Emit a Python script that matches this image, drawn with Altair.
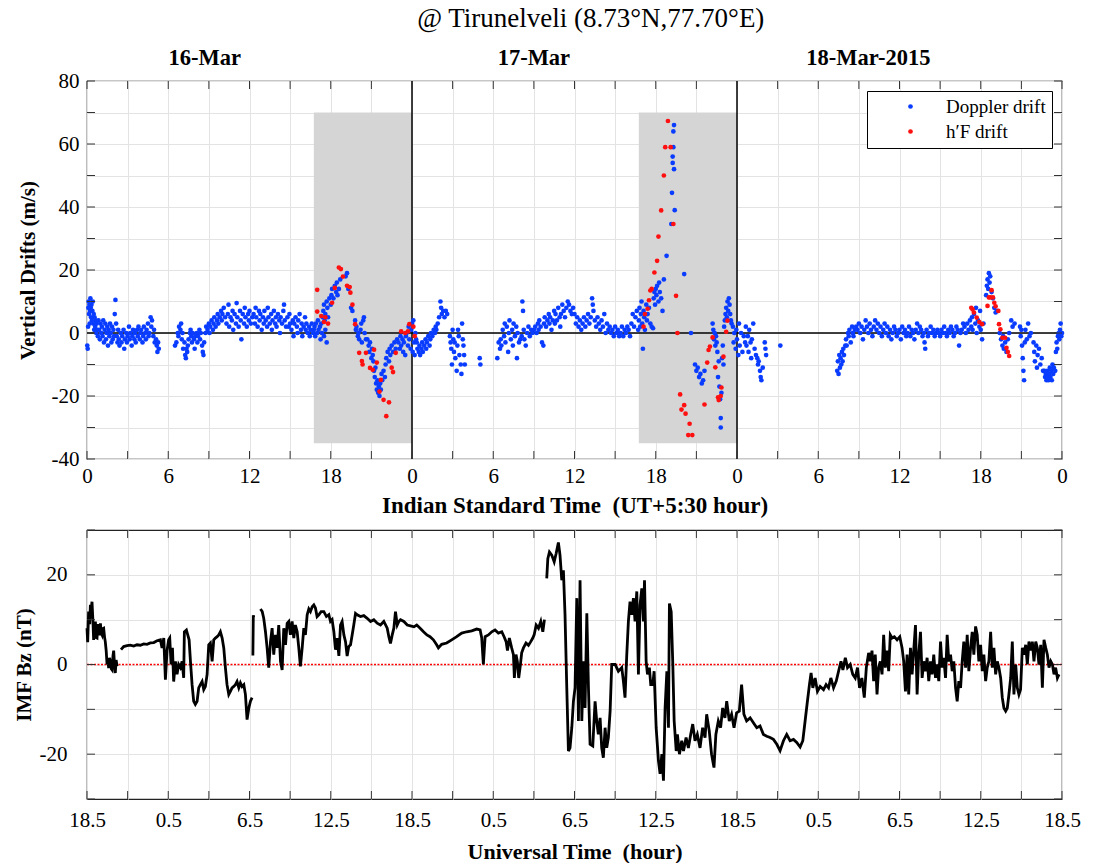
import altair as alt
import pandas as pd

# ---------------- data (hours from 16-Mar 00:00 IST) ----------------
dop_day1 = [
    (0.02,-4),(0.05,-5),(0.08,2),(0.1,8),(0.12,10),(0.15,6),(0.18,9),(0.2,3),(0.22,7),(0.25,11),(0.28,8),(0.3,5),
    (0.33,9),(0.36,4),(0.4,7),(0.43,10),(0.46,3),(0.5,6),(0.53,1),(0.56,5),(0.6,2),(0.64,4),(0.68,0),(0.72,3),(0.76,1),(0.8,-1),
    (0.85,4),(0.9,1),(0.95,-2),(1.0,3),(1.05,0),(1.1,2),(1.15,-1),(1.2,4),(1.25,-3),(1.3,1),(1.35,3),(1.4,-2),(1.45,0),
    (1.5,2),(1.55,-4),(1.6,1),(1.65,-1),(1.7,3),(1.75,0),(1.8,-3),(1.85,2),(1.9,-2),(1.95,1),(2.0,-1),(2.05,6),(2.1,10.5),
    (2.15,3),(2.2,-1),(2.25,-3),(2.3,1),
    (2.35,-2),(2.4,-4),(2.5,0),(2.55,-3),(2.6,-1),(2.7,1),(2.75,-5),(2.8,-2),(2.9,0),(2.95,-3),(3.0,-1),(3.1,2),(3.15,-2),
    (3.2,0),(3.3,-4),(3.35,-1),(3.4,1),(3.5,-2),(3.55,0),(3.6,-3),(3.7,1),(3.75,-1),(3.8,2),(3.9,-2),(3.95,0),(4.0,1),
    (4.1,-3),(4.15,-1),(4.2,2),(4.3,0),(4.35,-2),(4.4,1),(4.5,3),(4.55,-1),(4.6,0),(4.7,5),(4.75,2),(4.8,4),(4.9,-1),
    (4.95,1),(5.0,-3),(5.1,-2),(5.15,-4),(5.2,-6),(5.25,-3),(5.3,-5),
    (6.5,-4),(6.6,-3),(6.7,0),(6.75,-1),(6.8,2),(6.9,1),(6.95,3),(7.0,-2),(7.05,0),(7.1,-5),(7.2,-3),(7.25,-7),(7.3,-8),
    (7.35,-5),(7.4,-6),(7.45,-4),(7.5,-2),(7.6,0),(7.65,1),(7.7,-1),(7.75,-3),(7.8,0),(7.9,-2),(7.95,-5),(8.0,-1),(8.1,0),
    (8.15,-3),(8.2,-1),(8.3,1),(8.35,-2),(8.4,0),(8.5,-4),(8.55,-6),(8.6,-7),(8.65,-3),
    (8.75,0),(8.8,2),(8.9,1),(9.0,3),(9.05,0),(9.1,2),(9.2,4),(9.3,1),(9.35,3),(9.4,5),(9.5,2),(9.6,4),(9.65,6),(9.7,3),
    (9.8,5),(9.9,7),(9.95,4),(10.0,6),(10.1,8),(10.2,5),
    (10.3,3),(10.4,6),(10.45,9),(10.5,2),(10.6,5),(10.7,4),(10.75,7),(10.8,1),(10.9,6),(11.0,3),(11.05,9.5),(11.1,5),
    (11.2,2),(11.3,7),(11.35,4),(11.4,-2),(11.5,6),(11.6,3),(11.65,8),(11.7,5),(11.8,2),(11.9,6),(11.95,4),(12.0,7),(12.1,3),(12.2,5),
    (12.3,6),(12.4,3),(12.45,8),(12.5,5),(12.6,2),(12.7,7),(12.75,4),(12.8,6),(12.9,1),(13.0,5),(13.05,3),(13.1,7),(13.2,4),
    (13.3,2),(13.35,8),(13.4,5),(13.5,3),(13.6,6),(13.65,1),(13.7,4),(13.8,7),(13.9,3),(13.95,5),(14.0,2),(14.1,6),(14.2,4),
    (14.25,0),(14.3,5),(14.4,3),(14.5,7),(14.55,9),(14.6,4),(14.7,2),
    (14.8,5),(14.9,2),(14.95,6),(15.0,3),(15.1,1),(15.2,4),(15.25,-1),(15.3,3),(15.4,5),(15.5,2),(15.55,0),(15.6,4),(15.7,6),
    (15.8,1),(15.85,3),(15.9,-1),(16.0,2),(16.1,5),(16.15,1),(16.2,3),(16.3,0),(16.4,2),(16.45,-1),(16.5,1),(16.6,3),(16.7,0),
    (16.75,1),(16.8,2),(16.85,-1),(16.9,3),(17.0,0),(17.05,4),(17.1,1),(17.2,2),(17.25,-2),(17.3,3),(17.35,0),(17.4,5),
    (17.5,-1),(17.55,4),(17.6,1),(17.7,-3),
    (17.45,7),(17.5,9),(17.6,6),(17.7,10),(17.75,8),(17.8,5),(17.9,11),(18.0,9),(18.05,12),(18.1,14),(18.2,11),(18.3,15),
    (18.4,13),(18.45,16),(18.5,12),(18.6,14),(18.7,17),
    (19.1,18),(19.2,19),(19.3,14),(19.5,8),(19.6,7),
    (19.8,4),(19.85,1),(19.9,2),(20.0,-1),(20.05,0),(20.1,-2),(20.2,1),(20.25,3),(20.3,-3),(20.4,4),(20.45,5),(20.5,0),(20.6,-2),
    (20.7,-2),(20.8,-4),(20.85,-6),(20.9,-3),(21.0,-8),(21.05,-5),(21.1,-7),
    (21.15,-9),(21.2,-12),(21.25,-14),(21.3,-11),(21.35,-16),(21.4,-18),(21.45,-15),(21.5,-19),(21.55,-17),(21.6,-20),
    (21.65,-16),(21.7,-18),(21.75,-13),(21.8,-15),
    (21.9,-12),(22.0,-14),(22.05,-10),(22.1,-8),(22.2,-6),(22.3,-9),(22.35,-5),(22.4,-7),(22.5,-4),(22.6,-6),(22.7,-3),(22.8,-5),(22.9,-2),
    (23.0,-3),(23.1,-5),(23.15,-1),(23.2,-4),(23.3,-2),(23.35,-6),(23.4,-3),(23.5,-7),(23.55,-1),(23.6,0),(23.7,-4),(23.75,2),
    (23.8,-2),(23.9,-5),(23.95,1),
]
dop_day2 = [
    (24.0,3),(24.05,-6),(24.1,4),(24.15,-3),(24.2,-7),(24.25,0),(24.3,-2),
    (24.35,-3),(24.4,-5),(24.5,-6),(24.55,-4),(24.6,-7),(24.7,-5),(24.75,-3),(24.8,-6),(24.9,-4),(25.0,-2),(25.05,-5),(25.1,-3),
    (25.2,-1),(25.3,-4),(25.35,-2),(25.4,0),(25.5,-1),(25.6,1),(25.7,0),(25.75,2),(25.8,1),
    (25.9,3),(26.0,5),(26.1,10),(26.15,8),(26.2,6),(26.3,7),(26.4,5),(26.5,7),(26.6,6),
    (26.8,-1),(26.85,-3),(26.9,-5),(26.95,-10),(27.0,1),(27.05,-2),(27.1,-6),(27.15,-3),(27.2,-8),(27.3,-12),(27.35,-4),
    (27.4,1),(27.45,-1),(27.5,-7),(27.6,-10),(27.65,-13),(27.7,3),(27.75,-2),(27.8,-4),(27.85,-7),(27.9,-10),
    (29.0,-8),(29.05,-10),
    (30.3,-8),(30.4,-3),(30.5,-5),(30.55,-2),(30.6,-4),(30.7,1),(30.8,-1),(30.85,3),(30.9,-3),(31.0,2),(31.1,-6),(31.15,0),
    (31.2,4),(31.3,-2),(31.4,1),(31.45,-4),(31.5,3),(31.6,-1),(31.7,2),(31.75,-8),(31.8,0),(31.9,-3),(32.0,-2),(32.1,-1),
    (32.15,10),(32.2,7),(32.25,1),(32.3,-2),(32.4,-4),(32.5,0),(32.6,2),(32.7,-1),(32.8,1),(32.9,0),
    (33.0,1),(33.1,2),(33.2,0),(33.3,3),(33.35,1),(33.4,4),(33.5,2),(33.6,-3),(33.7,-4),(33.75,3),(33.8,5),(33.9,2),(34.0,4),
    (34.1,6),(34.15,3),(34.2,5),(34.3,1),(34.4,4),(34.5,7),(34.55,3),(34.6,6),(34.7,4),(34.8,8),(34.9,5),(34.95,2),(35.0,6),
    (35.1,9),(35.2,7),(35.3,5),(35.4,8),(35.5,10),(35.6,9),(35.7,7),(35.8,6),(35.9,8),
    (36.0,6),(36.1,3),(36.2,5),(36.3,2),(36.4,4),(36.5,1),(36.6,3),(36.7,5),(36.8,2),(36.9,4),(37.0,6),(37.1,3),(37.2,5),
    (37.3,11),(37.35,9),(37.4,7),(37.5,4),(37.6,2),(37.7,5),(37.8,3),(37.9,1),(38.0,4),(38.1,2),(38.2,6),(38.3,0),(38.4,3),
    (38.5,1),(38.6,2),(38.7,0),
    (38.8,1),(38.9,-1),(39.0,2),(39.1,0),(39.2,1),(39.3,-1),(39.4,0),(39.5,2),(39.6,-1),(39.7,1),(39.8,0),(39.9,2),(40.0,1),
    (40.1,-1),(40.2,3),(40.3,6),(40.4,2),(40.5,5),(40.6,7),(40.7,1),
    (40.75,4),(40.8,8),(40.85,2),(40.9,6),(40.95,10),(41.0,3),(41.05,-5),(41.1,7),(41.15,5),(41.2,1),(41.3,9),(41.35,4),
    (41.4,6),(41.5,8),(41.6,3),(41.7,2),(41.8,1.5),
    (41.85,11),(41.9,13),(41.95,9),(42.0,14),(42.05,12),(42.1,15),(42.2,10),(42.25,16),(42.3,13),(42.4,11),(42.5,7),(42.6,17),
    (42.8,24.5),(43.15,34.6),(43.2,44.5),(43.25,54),(43.25,56),(43.3,59),(43.3,64),(43.35,66),(43.35,52),(43.4,39),
    (44.1,18.7),(44.6,0),
    (44.9,-10),(45.0,-12),(45.1,-11),(45.2,-14),(45.3,-13),(45.4,-16),(45.5,-15),(45.6,-12),
    (46.2,3),(46.25,1),(46.3,-2),(46.35,0),(46.4,-4),(46.45,-1),(46.5,-3),
    (46.55,-6),(46.6,-14),(46.65,-9),(46.7,-17),(46.75,-21),(46.8,-27),(46.8,-30),(46.85,-19),(46.9,-8),(46.95,-4),(47.0,-10),
    (47.05,2),(47.1,4),(47.15,6),(47.2,8),(47.25,5),(47.3,10),(47.35,7),(47.4,11),(47.45,9),(47.5,6),(47.55,4),(47.6,3),
    (47.7,2),(47.75,-3),(47.8,0),(47.9,-5),(47.95,1),
]
dop_day3 = [
    (48.0,-2),(48.1,-7),(48.15,3),(48.2,-4),(48.3,0),(48.4,-6),(48.5,-1),(48.6,-3),
    (48.65,2),(48.7,-4),(48.8,-1),(48.85,-6),(48.9,1),(49.0,-3),(49.05,-8),(49.1,-2),(49.2,3),(49.3,-5),(49.4,-7),
    (49.5,-8),(49.55,-10),(49.6,-9),(49.7,-12),(49.75,-14),(49.8,-15),(49.9,-11),
    (50.05,-3),(50.1,-5),(50.15,-7),(51.2,-4),
    (55.4,-12),(55.45,-9),(55.5,-13),(55.55,-7),(55.6,-11),(55.65,-8),(55.7,-10),(55.75,-6),(55.8,-9),(55.85,-5),(55.9,-7),(56.0,-4),
    (56.05,-2),(56.1,-4),(56.2,0),(56.25,-1),(56.3,1),(56.4,-3),(56.5,2),(56.55,0),(56.6,-1),(56.7,1),(56.8,2),
    (56.9,1),(57.0,3),(57.1,0),(57.2,2),(57.3,-2),(57.4,1),(57.5,4),(57.6,2),(57.7,0),(57.8,3),(57.9,1),(58.0,-1),(58.1,2),
    (58.2,4),(58.3,1),(58.4,3),(58.5,0),(58.6,2),(58.7,-1),(58.8,1),(58.9,3),(59.0,0),(59.1,2),(59.2,-1),(59.3,1),(59.4,-2),
    (59.5,0),(59.6,2),(59.7,1),(59.8,-1),(59.9,0),(60.0,1),(60.1,-2),(60.2,2),(60.3,0),(60.4,1),(60.5,-1),(60.6,0),(60.7,2),
    (60.8,-1),(60.9,1),(61.0,0),(61.1,-2),(61.2,1),(61.3,3),(61.4,0),(61.5,2),(61.6,1),(61.7,-1),
    (61.85,-3),(61.9,-5),
    (61.8,0),(62.0,1),(62.1,-1),(62.2,0),(62.3,2),(62.4,0),(62.5,1),(62.6,-1),(62.7,0),(62.8,1),(62.9,0),(63.0,-1),(63.1,1),
    (63.2,0),(63.3,2),(63.4,0),(63.5,-1),(63.6,1),(63.7,0),(63.8,2),(63.9,1),(64.0,-1),(64.1,0),(64.2,2),(64.3,1),(64.4,-4),
    (64.5,0),(64.6,1),(64.7,3),(64.8,2),(64.9,0),(65.0,3),(65.1,1),(65.2,4),
    (65.3,2),(65.35,5),(65.4,1),(65.5,6),(65.6,3),(65.65,8),(65.7,0),(65.8,4),(65.9,2),(65.95,7),(66.0,1),(66.1,-2),(66.2,3),
    (66.4,12),(66.45,15),(66.5,17),(66.55,14),(66.6,19),(66.65,16),(66.7,18),(66.8,13),
    (66.9,11),(67.0,8),(67.1,6.5),(67.2,7),
    (67.4,0),(67.5,-2),(67.6,-4),(67.65,-1),(67.7,-5),(67.8,-3),(67.9,-6),(68.0,-2),(68.1,0),
    (68.25,4),(68.35,2),(68.5,3),
    (68.9,2),(68.95,-1),(69.0,1),(69.05,-4),(69.1,-8),(69.15,-12),(69.2,-15),(69.25,-3),(69.3,1),(69.4,-2),
    (69.5,3),(69.6,-1),(69.7,0),
    (69.9,-3),(69.95,-6),(70.0,-9),(70.1,-4),(70.15,-11),(70.2,-7),(70.3,-5),(70.4,-10),(70.5,-8),(70.6,-12),
    (70.7,-12),(70.75,-14),(70.8,-13),(70.85,-15),(70.9,-12),(70.95,-14),(71.0,-15),(71.05,-13),(71.1,-11),(71.15,-14),
    (71.2,-12),(71.25,-15),(71.3,-10),(71.35,-13),(71.4,-11),(71.5,-12),
    (71.55,-6),(71.6,-3),(71.65,-5),(71.7,-1),(71.75,0),(71.8,-2),(71.85,1),(71.9,3),(71.95,-1),(72.0,0),
]
hf_drift = [
    (17.0,13.7),(17.0,6.8),(17.3,5.4),(17.5,3.5),(17.6,5),(17.8,3),(18.1,9.6),(18.3,14.3),(18.6,20.8),(18.75,20.3),
    (18.9,17.9),(19.2,15),(19.4,14.6),(19.45,12.8),(19.6,9),(19.8,2.8),(20.1,-6.3),(20.3,-8.9),(20.35,-10),(20.6,-6.3),
    (20.9,-11.1),(21.1,-11.7),(21.2,-5.3),(21.4,-9.4),(21.6,-18.6),(21.7,-14.9),(21.9,-21.2),(22.1,-26.4),(22.3,-22),
    (22.5,-11),(22.6,-12.4),(22.8,-6.3),(23.2,0.5),(23.5,0),(23.7,0.5),(23.8,2.8),(24.1,2),(24.2,-1),
    (41.1,2),(41.2,6),(41.4,7.7),(41.5,10.4),(41.6,13.5),(41.7,14),(41.9,19.2),(42.1,22.9),(42.2,30.6),(42.4,38.9),
    (42.6,50),(42.7,59),(42.9,67.3),(43.1,59),(43.3,34.6),(43.5,11.8),(43.6,0),(43.8,-19.5),(43.9,-24.3),(44.1,-22.9),
    (44.2,-25.6),(44.4,-32.4),(44.5,-28.8),(44.7,-32.4),(45.6,-22.7),(45.8,-9.4),(45.9,-5.4),(46.0,-4.3),(46.2,-1.4),
    (46.4,-10.9),(46.6,-20.4),(46.65,-21.3),(46.8,-20),(46.85,-17.3),(47.0,-7.5),(47.2,0.4),(47.3,3.9),
    (65.3,8),(65.4,7.5),(65.5,6.5),(65.7,4.9),(65.9,3.5),(66.1,2.8),(66.5,8.6),(66.6,11.3),(66.7,11.3),(66.8,13.6),
    (66.9,11.3),(67.0,9.6),(67.1,8.5),(67.3,7),(67.35,2.8),(67.45,1.2),(67.6,-1.5),(67.8,-1.5),(67.9,-4.7),(68.0,-6),(68.1,-7.3),
]

# IMF Bz (nT), continuous pieces
bz_a = [(0,8.1),(0.05,5),(0.12,11.8),(0.2,9),(0.25,13.3),(0.3,12),(0.37,14),(0.44,9.6),(0.49,5.5),(0.55,8),(0.62,9.6),
        (0.68,6),(0.74,5.9),(0.8,9),(0.86,8.1),(0.92,6.5),(0.99,9.2),(1.05,7),(1.11,6.6),(1.17,8),(1.23,8.1),(1.3,6),
        (1.35,5.1),(1.42,3),(1.48,0),(1.54,1),(1.6,-0.8),(1.66,1.5),(1.72,0.7),(1.8,-1),(1.85,-1.2),(1.92,2),(1.97,3.1),
        (2.03,0),(2.09,-1.9),(2.15,1),(2.22,-0.4)]
bz_b = [(2.51,3.3),(2.71,4.0),(2.96,4.2),(3.2,4.3),(3.45,4.1),(3.69,4.4),(3.94,4.3),(4.19,4.6),(4.43,4.5),(4.68,4.8),
        (4.93,4.9),(5.17,5.3),(5.42,5.5),(5.54,3.7),(5.67,5.9),(5.79,-3.4),(5.91,3.1),(6.03,5.5),(6.11,5.9),(6.21,0),
        (6.31,3.7),(6.4,-3.8),(6.53,0.7),(6.65,-2.2),(6.77,0),(6.9,-0.7),(7.02,0.7),(7.14,-3.0),(7.19,7.3),(7.34,7.7),
        (7.44,6.6),(7.54,5.5),(7.64,0.7),(7.76,-4.5),(7.88,-8.2),(8.0,-8.9),(8.13,-8.2),(8.25,-5.2),(8.37,-4.5),(8.5,-3.8),
        (8.62,-5.6),(8.74,-4.9),(8.87,-2.2),(8.99,4.4),(9.11,4.8),(9.24,0.7),(9.36,5.5),(9.48,5.9),(9.61,6.2),(9.73,6.6),
        (9.85,7.3),(9.98,5.9),(10.1,3.7),(10.22,-0.7),(10.34,-4.5),(10.47,-6.7),(10.59,-6.0),(10.71,-5.2),(10.84,-4.9),
        (10.96,-4.5),(11.08,-3.8),(11.21,-5.2),(11.33,-4.1),(11.45,-4.9),(11.58,-4.5),(11.7,-6.7),(11.82,-12.3),
        (11.95,-9.7),(12.07,-8.2),(12.19,-7.4)]
bz_c = [(12.25,2),(12.28,11),(12.31,10.5)]
bz_d = [(12.81,12.4),(12.94,11.8),(13.05,10.3),(13.18,7.3),(13.3,3.7),(13.42,-0.7),(13.55,5.1),(13.67,8.1),(13.79,2.2),
        (13.92,6.6),(14.04,3.7),(14.16,8.8),(14.29,0.7),(14.41,-1.2),(14.53,8.1),(14.66,4.4),(14.78,9.2),(14.9,9.6),
        (15.02,6.6),(15.15,9.6),(15.27,5.9),(15.39,8.8),(15.52,7.3),(15.64,3.7),(15.76,-0.4),(15.89,3.7),(16.01,8.1),
        (16.13,6.6),(16.26,11.1),(16.38,12.4),(16.5,11.8),(16.63,12.9),(16.75,13.3),(16.87,12.6),(16.99,10.7),(17.12,11.1),
        (17.29,11.8),(17.49,11.8),(17.68,10.7),(17.86,11.1),(17.98,9.6),(18.1,10.0),(18.23,7.3),(18.35,3.3),(18.47,5.9),
        (18.6,1.9),(18.72,8.8),(18.84,9.6),(18.97,6.6),(19.09,5.1),(19.21,1.9),(19.33,4.0),(19.46,4.4),(19.58,6.6),
        (19.7,8.8),(19.83,11.4),(19.95,11.1),(20.2,10.7),(20.44,10.9),(20.69,10.3),(20.94,9.6),(21.18,10.0),(21.43,9.2),
        (21.67,8.8),(21.92,9.6),(22.17,8.1),(22.29,6.2),(22.41,4.7),(22.54,6.6),(22.66,8.1),(22.78,11.8),(22.91,8.8),
        (23.03,9.6),(23.15,10.0),(23.4,9.6),(23.65,8.8),(23.89,8.6),(24.14,8.4),(24.35,8.8),(24.6,8.1),(24.85,7.3),
        (25.1,6.6),(25.33,6.2),(25.58,5.5),(25.82,4.4),(25.95,3.7),(26.19,4.5),(26.56,4.8),(26.93,5.5),(27.3,6.2),
        (27.67,7.0),(28.04,7.3),(28.41,7.5),(28.78,7.9),(29.03,7.7),(29.15,5.9),(29.27,0),(29.4,6.2),(29.64,6.6),
        (29.89,7.3),(30.13,7.7),(30.38,7.0),(30.63,7.3),(30.8,6.2),(30.95,5.1),(31.05,3.1),(31.19,5.9),(31.36,3.7),
        (31.49,2.2),(31.56,-3.0),(31.68,2.2),(31.78,0.7),(31.88,-3.0),(31.98,-0.7),(32.1,2.6),(32.23,3.7),(32.42,4.8),
        (32.6,4.3),(32.77,5.1),(32.92,5.9),(33.02,6.6),(33.17,8.8),(33.34,8.1),(33.51,9.6),(33.66,7.3),(33.78,10.0)]
bz_e = [(33.95,19.2),(34.03,23.6),(34.15,25.1),(34.32,24.4),(34.5,22.9),(34.64,24.7),(34.81,27.2),(34.93,24.4),
        (35.06,18.8),(35.18,21.0),(35.3,11.1),(35.43,-5.2),(35.55,-19.3),(35.67,-18.6),(35.8,-14.1),(35.92,-8.2),
        (36.04,-5.2),(36.17,14.8),(36.29,-12.6),(36.41,18.8),(36.54,-12.6),(36.66,0.7),(36.78,-9.7),(36.91,11.4),
        (37.03,-5.2),(37.15,-17.8),(37.35,-18.2),(37.52,-8.2),(37.64,-12.6),(37.76,-15.6),(37.89,-11.9),(38.01,-18.6),
        (38.13,-20.8),(38.26,-14.1),(38.38,-18.6),(38.5,-16.3),(38.63,-10.4),(38.75,0),(39.0,0),(39.24,-1.5),(39.49,-0.7),
        (39.61,-3.7),(39.73,-7.4),(39.86,2.2),(39.98,9.6),(40.1,14.0),(40.23,11.1),(40.35,14.8),(40.47,9.6),(40.6,16.3),
        (40.72,-2.2),(40.84,13.3),(40.97,17.0),(41.09,9.6),(41.17,18.8),(41.29,0.7),(41.39,-2.2),(41.53,-0.7),(41.63,-4.5),
        (41.78,-4.5),(41.88,-1.5),(42.03,-14.1),(42.2,-21.5),(42.32,-24.4),(42.45,-20.0),(42.57,-25.9),(42.69,-9.7),
        (42.82,-1.5),(42.94,-14.1),(43.01,13.6),(43.14,11.8),(43.26,0),(43.36,-12.6),(43.51,-19.3),(43.6,-15.6),
        (43.75,-20.0),(43.92,-17.0),(44.05,-19.3),(44.24,-16.3),(44.41,-18.6),(44.58,-15.6),(44.73,-13.3),(44.9,-17.0),
        (45.07,-15.6),(45.27,-18.6),(45.46,-14.1),(45.64,-16.3),(45.76,-11.1),(45.95,-14.8),(46.12,-20.0),(46.3,-23.0),
        (46.44,-15.6),(46.62,-12.6),(46.79,-14.1),(46.94,-9.7),(47.11,-11.9),(47.24,-8.2),(47.43,-12.6),(47.6,-11.1),
        (47.78,-14.1),(47.97,-10.8),(48.17,-10.4),(48.34,-4.5),(48.51,-11.1),(48.71,-12.6),(48.97,-11.9),(49.21,-13.0),
        (49.46,-14.1),(49.7,-13.7),(49.95,-15.6),(50.2,-16.0),(50.44,-16.3),(50.69,-16.7),(50.94,-17.8),(51.18,-19.2),
        (51.43,-17.0),(51.67,-15.6),(51.92,-17.0),(52.17,-16.7),(52.41,-17.4),(52.66,-18.4),(52.86,-17.0),(53.03,-12.6),
        (53.2,-8.2),(53.35,-4.5),(53.47,-1.9),(53.6,-5.2),(53.77,-3.0),(53.94,-6.0),(54.14,-4.9),(54.39,-5.6),(54.58,-4.5),
        (54.76,-5.2),(54.93,-3.0),(55.13,-5.2),(55.33,-3.7),(55.5,-1.5),(55.68,0.7),(55.82,-1.2),(56.0,1.5),(56.16,-0.7),
        (56.36,0),(56.55,-2.2),(56.73,-3.0),(56.9,-0.7),(57.05,-5.2),(57.22,-3.0),(57.4,-7.4),(57.55,-0.7),(57.72,2.6),
        (57.84,0.7),(57.97,3.1),(58.09,-3.7),(58.21,2.2),(58.34,-6.7),(58.46,-0.7),(58.58,0.7),(58.71,-2.2),(58.83,6.6),
        (58.95,-0.7),(59.08,3.1),(59.2,-1.5),(59.32,6.6),(59.45,5.9),(59.62,6.2),(59.82,5.5),(60.02,6.2),(60.19,3.7),
        (60.31,0.7),(60.44,-6.0),(60.56,2.2),(60.68,-6.7),(60.81,3.7),(60.93,-2.2),(61.05,3.1),(61.18,8.8),(61.3,-6.7),
        (61.42,2.2),(61.55,7.3),(61.67,-3.0),(61.79,0.7),(61.92,-1.5),(62.04,1.5),(62.16,-3.7),(62.29,0.7),(62.41,-2.2),
        (62.53,2.2),(62.66,-3.0),(62.78,0),(62.9,-3.7),(63.03,5.1),(63.15,-0.7),(63.27,1.5),(63.4,-3.0),(63.52,6.6),
        (63.64,0.7),(63.77,2.2),(63.89,-1.5),(64.01,0.7),(64.14,-5.2),(64.26,-8.2),(64.38,-3.7),(64.51,-5.2),(64.63,0.7),
        (64.75,5.1),(64.88,-0.7),(65.0,6.6),(65.12,-1.5),(65.25,3.7),(65.37,7.3),(65.49,2.2),(65.62,8.5),(65.74,6.6),
        (65.86,0.7),(65.99,4.4),(66.11,-1.5),(66.23,2.2),(66.36,-3.7),(66.48,-0.7),(66.6,0.7),(66.73,7.3),(66.85,-0.7),
        (66.97,3.7),(67.1,-2.2),(67.22,0.7),(67.34,-0.7),(67.47,-3.0),(67.59,-7.4),(67.71,-9.7),(67.84,-10.4),(67.96,-9.7),
        (68.08,-6.7),(68.21,-3.0),(68.33,5.1),(68.45,-6.7),(68.58,0),(68.7,-5.2),(68.82,-6.7),(68.94,-5.6),(69.07,3.7),
        (69.19,2.2),(69.32,4.4),(69.44,0),(69.56,5.1),(69.69,3.1),(69.81,5.1),(69.93,0.7),(70.06,5.1),(70.18,3.7),(70.3,0),
        (70.43,4.4),(70.55,-5.2),(70.67,5.5),(70.8,3.7),(70.92,2.2),(71.04,-0.7),(71.17,0.7),(71.29,0),(71.41,-2.2),
        (71.53,-0.7),(71.66,-3.0),(71.78,-2.2)]

shade_start = [16.75, 40.75]
shade_end = [24, 48]
shade_low = [-35, -35]
shade_high = [70, 70]
day_bounds = [24, 48]
day_labels = ["16-Mar", "17-Mar", "18-Mar-2015"]
day_label_t = [8.7, 33.0, 57.7]
title_text = "@ Tirunelveli (8.73°N,77.70°E)"
x_ticks = list(range(0, 73, 3))
y_ticks_top = list(range(-40, 81, 10))
y_ticks_bot = list(range(-30, 31, 10))
y_grid_bot = list(range(-20, 21, 10))

# ---------------- styling ----------------
W, H1, H2 = 975, 378, 269
SERIF = "Liberation Serif"
BLUE, RED = "#0a3cff", "#ff1010"
GRID = "#e3e3e3"
TICK = 8
AX = dict(labelFont=SERIF, labelFontSize=21, labelColor="black", titleFont=SERIF,
          titleFontWeight="bold", titleColor="black", domain=False, ticks=False, grid=True,
          gridColor=GRID, gridWidth=1, labelOverlap=False, labelFlush=False)

drift = pd.concat([
    pd.DataFrame(dop_day1 + dop_day2 + dop_day3, columns=["t", "v"]).assign(series="Doppler drift"),
    pd.DataFrame(hf_drift, columns=["t", "v"]).assign(series="h′F drift"),
])
bz_rows = []
for k, seg in enumerate([bz_a, bz_b, bz_c, bz_d, bz_e]):
    for t, v in seg:
        bz_rows.append({"t": t, "v": v, "seg": k})
bz = pd.DataFrame(bz_rows)
shade = pd.DataFrame({"t": shade_start, "t2": shade_end, "v": shade_low, "v2": shade_high})
bounds = pd.DataFrame({"t": day_bounds})
zero = pd.DataFrame({"v": [0]})
xt = pd.DataFrame({"t": x_ticks})
ytt = pd.DataFrame({"v": y_ticks_top})
ytb = pd.DataFrame({"v": y_ticks_bot})
days = pd.DataFrame({"t": day_label_t, "label": day_labels})
ttl = pd.DataFrame({"t": [37.2], "label": [title_text]})

xscale = alt.Scale(domain=[0, 72], nice=False, zero=False)
NB = "\u00a0"

x_top = alt.X("t:Q", scale=xscale, axis=alt.Axis(
    values=x_ticks, labelExpr="datum.value % 6 == 0 ? toString(datum.value % 24) : ''",
    title="Indian Standard Time " + NB + "(UT+5:30 hour)", labelPadding=6, titlePadding=8,
    titleFontSize=23, **AX))
y_top = alt.Y("v:Q", scale=alt.Scale(domain=[-40, 80], nice=False, zero=False), axis=alt.Axis(
    values=y_ticks_top, labelExpr="datum.value % 20 == 0 ? toString(datum.value) : ''",
    title="Vertical Drifts (m/s)", labelPadding=8, titlePadding=13, titleFontSize=21, **AX))

x_bot = alt.X("t:Q", scale=xscale, axis=alt.Axis(
    values=x_ticks, labelExpr="datum.value % 6 == 0 ? format((datum.value + 18.5) % 24, '.1f') : ''",
    title="Universal Time " + NB + "(hour)", labelPadding=10, titlePadding=11, titleFontSize=22, **AX))
y_bot = alt.Y("v:Q", scale=alt.Scale(domain=[-30, 30], nice=False, zero=False), axis=alt.Axis(
    values=y_grid_bot, labelExpr="datum.value % 20 == 0 ? toString(datum.value) : ''",
    title="IMF Bz (nT)", labelPadding=20, titlePadding=5, titleFontSize=21, **AX))


def tick_layers(xenc, yenc, ydf, h):
    return [
        alt.Chart(xt).mark_rule(color="#333333", strokeWidth=1).encode(x=xenc, y=alt.value(0), y2=alt.value(TICK)),
        alt.Chart(xt).mark_rule(color="#333333", strokeWidth=1).encode(x=xenc, y=alt.value(h - TICK), y2=alt.value(h)),
        alt.Chart(ydf).mark_rule(color="#333333", strokeWidth=1).encode(y=yenc, x=alt.value(0), x2=alt.value(TICK)),
        alt.Chart(ydf).mark_rule(color="#333333", strokeWidth=1).encode(y=yenc, x=alt.value(W - TICK), x2=alt.value(W)),
    ]


rects = alt.Chart(shade).mark_rect(color="#d5d5d5").encode(x=x_top, x2="t2:Q", y=y_top, y2="v2:Q")
vlines = alt.Chart(bounds).mark_rule(color="black", strokeWidth=1.5).encode(x=x_top, y=alt.value(0), y2=alt.value(H1))
hline = alt.Chart(zero).mark_rule(color="black", strokeWidth=1.5).encode(y=y_top, x=alt.value(0), x2=alt.value(W))
pts = alt.Chart(drift).mark_circle(size=22, opacity=1).encode(
    x=x_top, y=y_top,
    color=alt.Color("series:N",
                    scale=alt.Scale(domain=["Doppler drift", "h′F drift"], range=[BLUE, RED]),
                    legend=alt.Legend(title=None, orient="none", legendX=780, legendY=10,
                                      fillColor="white", strokeColor="black", padding=6,
                                      labelFont=SERIF, labelFontSize=19, labelColor="black",
                                      symbolType="circle", symbolSize=22, symbolOffset=28,
                                      labelOffset=26, rowPadding=5, symbolStrokeWidth=0)),
    order=alt.Order("series:N", sort="ascending"),
)
day_txt = alt.Chart(days).mark_text(font=SERIF, fontSize=22.5, fontWeight="bold", color="black",
                                    baseline="middle", align="center").encode(
    x=x_top, y=alt.value(-23), text="label:N")
title_txt = alt.Chart(ttl).mark_text(font=SERIF, fontSize=27, color="black",
                                     baseline="middle", align="center").encode(
    x=x_top, y=alt.value(-62), text="label:N")

top = alt.layer(rects, vlines, hline, pts, *tick_layers(x_top, y_top, ytt, H1), day_txt, title_txt).properties(
    width=W, height=H1)

zline = alt.Chart(zero).mark_rule(color="#ff0000", strokeWidth=1.3, strokeDash=[2, 1.5]).encode(
    y=y_bot, x=alt.value(0), x2=alt.value(W))
bzline = alt.Chart(bz).mark_line(color="black", strokeWidth=2.8, strokeJoin="miter").encode(
    x=x_bot, y=y_bot, detail="seg:N", order="t:Q")
bottom = alt.layer(zline, bzline, *tick_layers(x_bot, y_bot, ytb, H2)).properties(width=W, height=H2)

chart = alt.vconcat(top, bottom, spacing=10).properties(
    padding={"left": 12, "top": 4, "right": 5, "bottom": 0}, background="white"
).configure_view(stroke="#222222", strokeWidth=1.2)

chart.save("out.html", embed_options={"renderer": "svg", "actions": False})
